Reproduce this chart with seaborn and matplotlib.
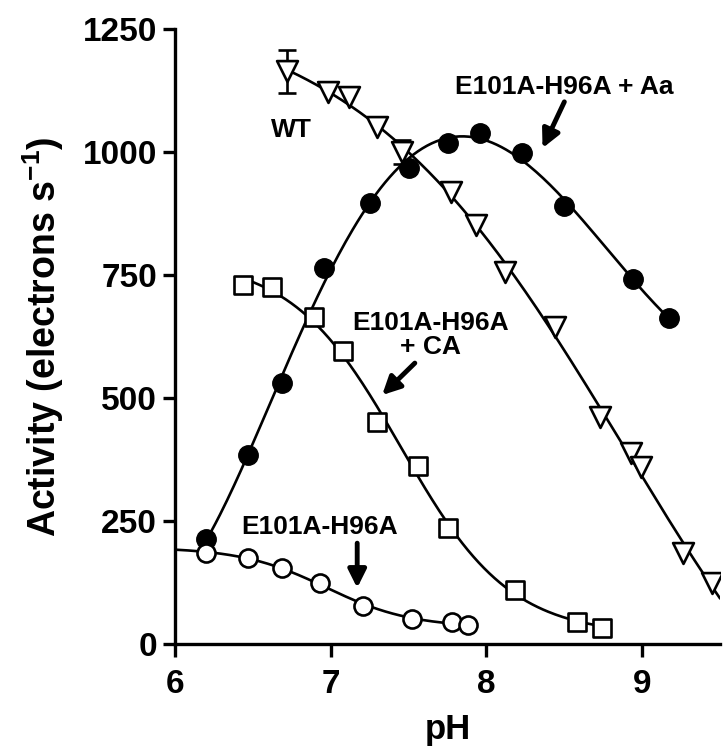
"""pH-профиль активности: WT и мутанты E101A-H96A"""
import numpy as np
import pandas as pd
import matplotlib
matplotlib.use('Agg')
import matplotlib.pyplot as plt
import seaborn as sns

sns.set_theme(style='ticks')
plt.rcParams['font.family'] = ['Liberation Sans', 'DejaVu Sans']
plt.rcParams['font.weight'] = 'bold'
plt.rcParams['mathtext.fontset'] = 'custom'
plt.rcParams['mathtext.rm'] = 'Liberation Sans:bold'
plt.rcParams['mathtext.bf'] = 'Liberation Sans:bold'
plt.rcParams['mathtext.default'] = 'bf'
for key in ['text.color', 'axes.labelcolor', 'xtick.color', 'ytick.color',
            'axes.edgecolor']:
    plt.rcParams[key] = 'black'

# данные
wt_ph = [6.72, 6.98, 7.12, 7.30, 7.46, 7.77, 7.93, 8.12, 8.44, 8.73, 8.93, 8.99, 9.26, 9.45]
wt_act = [1164, 1122, 1112, 1051, 1000, 919, 852, 756, 644, 462, 388, 360, 185, 124]
wt_err = [44, 0, 0, 0, 25, 0, 0, 0, 0, 0, 0, 0, 0, 0]

aa_ph = [6.20, 6.47, 6.69, 6.96, 7.25, 7.50, 7.75, 7.96, 8.23, 8.50, 8.94, 9.17]
aa_act = [213, 384, 531, 764, 897, 968, 1019, 1039, 998, 890, 742, 663]

ca_ph = [6.44, 6.62, 6.89, 7.08, 7.30, 7.56, 7.75, 8.18, 8.58, 8.74]
ca_act = [730, 726, 665, 596, 451, 362, 236, 110, 45, 33]

mut_ph = [6.20, 6.47, 6.69, 6.93, 7.21, 7.52, 7.78, 7.88]
mut_act = [185, 175, 154, 124, 77, 51, 45, 39]


def fit_sigmoid(x, y):
    """подгонка убывающей кривой титрования: B + A / (1 + 10^(n(pH - pKa)))"""
    x = np.asarray(x, float)
    y = np.asarray(y, float)
    best = None
    for pka in np.arange(6.0, 10.0, 0.01):
        for n in np.arange(0.5, 1.6, 0.02):
            f = 1 / (1 + 10 ** (n * (x - pka)))
            M = np.column_stack([f, np.ones_like(f)])
            coef, *_ = np.linalg.lstsq(M, y, rcond=None)
            err = np.sum((M @ coef - y) ** 2)
            if best is None or err < best[0]:
                best = (err, pka, n, coef)
    _, pka, n, (a, b) = best
    return lambda p: b + a / (1 + 10 ** (n * (p - pka)))


def fit_poly(x, y, order):
    coef = np.polyfit(x, y, order)
    return lambda p: np.polyval(coef, p)


# модель и диапазон pH для каждой кривой
fits = [
    (fit_sigmoid(wt_ph, wt_act), 6.74, 9.50),
    (fit_poly(aa_ph, aa_act, 5), 6.20, 9.17),
    (fit_sigmoid(ca_ph, ca_act), 6.46, 8.74),
    (fit_sigmoid(mut_ph, mut_act), 6.00, 7.88),
]

fig = plt.figure(figsize=(7.23, 7.5), dpi=100)
ax = fig.add_axes([0.242, 0.1413, 0.754, 0.82])
ax.set_xlim(6, 9.5)
ax.set_ylim(0, 1250)

for model, lo, hi in fits:
    grid = np.linspace(lo, hi, 200)
    curve = pd.DataFrame({'pH': grid, 'act': model(grid)})
    sns.lineplot(data=curve, x='pH', y='act', ax=ax, color='black', lw=1.9,
                 zorder=2)

ms = 13
ax.errorbar(wt_ph, wt_act, yerr=[e if e else np.nan for e in wt_err], fmt='none',
            ecolor='black', elinewidth=1.9, capsize=6.5, capthick=1.9, zorder=3)
sns.scatterplot(x=wt_ph, y=wt_act, ax=ax, marker='v', s=(ms + 2) ** 2,
                facecolor='white', edgecolor='black', linewidth=1.9, zorder=4)
sns.scatterplot(x=aa_ph, y=aa_act, ax=ax, marker='o', s=(ms + 1) ** 2,
                color='black', edgecolor='black', linewidth=1, zorder=4)
sns.scatterplot(x=ca_ph, y=ca_act, ax=ax, marker='s', s=ms ** 2,
                facecolor='white', edgecolor='black', linewidth=1.9, zorder=4)
sns.scatterplot(x=mut_ph, y=mut_act, ax=ax, marker='o', s=ms ** 2,
                facecolor='white', edgecolor='black', linewidth=1.9, zorder=4)

# подписи и стрелки
arrow = dict(arrowstyle='-|>,head_width=0.45,head_length=0.9', color='black',
             lw=3.5, shrinkA=0, shrinkB=0)
ax.text(6.75, 1045, 'WT', ha='center', va='center', fontsize=19, fontweight='bold')
ax.text(8.50, 1132, 'E101A-H96A + Aa', ha='center', va='center', fontsize=19,
        fontweight='bold')
ax.annotate('', xy=(8.36, 1008), xytext=(8.50, 1102), arrowprops=arrow)
ax.text(7.64, 628, 'E101A-H96A\n+ CA', ha='center', va='center', fontsize=19,
        fontweight='bold', linespacing=1.0)
ax.annotate('', xy=(7.33, 506), xytext=(7.54, 571), arrowprops=arrow)
ax.text(6.93, 238, 'E101A-H96A', ha='center', va='center', fontsize=19,
        fontweight='bold')
ax.annotate('', xy=(7.17, 114), xytext=(7.17, 205), arrowprops=arrow)

ax.set_xticks([6, 7, 8, 9])
ax.set_yticks([0, 250, 500, 750, 1000, 1250])
ax.tick_params(axis='both', direction='out', length=9, width=2.4, labelsize=24,
               color='black', pad=4)
ax.tick_params(axis='x', pad=9)
for lab in ax.get_xticklabels() + ax.get_yticklabels():
    lab.set_fontweight('bold')
for side in ['left', 'bottom']:
    ax.spines[side].set_linewidth(2.4)
sns.despine(ax=ax)
ax.set_xlabel('pH', fontsize=25, fontweight='bold', labelpad=9)
ax.set_ylabel(r'Activity (electrons s$^{-1}$)', fontsize=27, fontweight='bold',
              labelpad=12)

plt.savefig('out.png', dpi=100)
